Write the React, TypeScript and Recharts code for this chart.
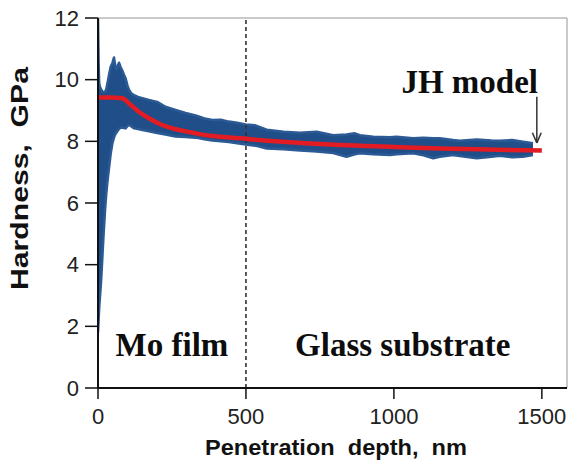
import React from 'react';
import { ComposedChart, Area, Line, XAxis, YAxis, ReferenceLine, ReferenceDot, Label } from 'recharts';

// Axis ticks
const xTicks = [0, 500, 1000, 1500];
const yTicks = [0, 2, 4, 6, 8, 10, 12];
const X_MAX = 1585;
const FILM_THICKNESS = 500;

// Measured hardness scatter band (envelope, GPa) vs penetration depth (nm)
const bandDepth = [0, 2, 4, 7, 10, 14, 19, 24, 28, 32, 38, 43, 49, 54, 58, 62, 67, 71, 76, 82, 88, 93, 100, 105, 113, 122, 135, 150, 172, 200, 228, 262, 296, 330, 360, 386, 415, 442, 470, 499, 532, 570, 627, 683, 739, 795, 840, 868, 885, 930, 986, 1009, 1065, 1100, 1133, 1155, 1200, 1223, 1280, 1330, 1358, 1400, 1436, 1470];
const bandLow = [1.8, 2.2, 2.6, 3.0, 3.4, 4.1, 5.0, 5.8, 6.3, 6.7, 7.2, 7.6, 7.95, 8.12, 8.22, 8.28, 8.35, 8.4, 8.44, 8.45, 8.43, 8.42, 8.5, 8.53, 8.48, 8.42, 8.4, 8.37, 8.33, 8.27, 8.22, 8.16, 8.14, 8.12, 8.07, 8.03, 8.0, 7.98, 7.94, 7.9, 7.86, 7.77, 7.74, 7.7, 7.67, 7.62, 7.5, 7.58, 7.61, 7.58, 7.56, 7.58, 7.61, 7.55, 7.45, 7.5, 7.56, 7.52, 7.45, 7.5, 7.53, 7.48, 7.5, 7.56];
const bandHigh = [12.0, 10.6, 9.9, 9.75, 9.7, 9.62, 9.6, 9.6, 9.7, 9.88, 10.2, 10.42, 10.55, 10.72, 10.48, 10.35, 10.45, 10.55, 10.42, 10.3, 10.15, 10.05, 9.8, 9.67, 9.55, 9.5, 9.44, 9.4, 9.34, 9.28, 9.12, 9.02, 8.92, 8.84, 8.74, 8.69, 8.7, 8.64, 8.6, 8.55, 8.52, 8.38, 8.31, 8.28, 8.31, 8.2, 8.22, 8.26, 8.2, 8.15, 8.13, 8.15, 8.1, 8.12, 8.1, 8.1, 8.04, 8.02, 8.06, 8.03, 8.02, 8.04, 7.99, 7.94];

// JH model fit
const fitDepth = [0, 40, 82, 105, 138, 172, 217, 273, 330, 386, 484, 532, 600, 700, 818, 1000, 1155, 1350, 1500];
const fitHardness = [9.42, 9.42, 9.4, 9.23, 8.96, 8.75, 8.53, 8.37, 8.26, 8.17, 8.1, 8.05, 8.0, 7.94, 7.88, 7.82, 7.77, 7.73, 7.7];

const bandData = bandDepth.map((x, i) => ({ x, range: [bandLow[i], bandHigh[i]] }));
const fitData = fitDepth.map((x, i) => ({ x, h: fitHardness[i] }));

const SANS = "'Liberation Sans', Arial, sans-serif";
const SERIF = "'Liberation Serif', 'Times New Roman', serif";

const serifText = (text: string, anchor: 'start' | 'middle' | 'end') => (props: any) => {
  const vb = props.viewBox || {};
  const cx = (vb.x ?? 0) + (vb.width ?? 0) / 2;
  const cy = (vb.y ?? 0) + (vb.height ?? 0) / 2;
  return (
    <text x={cx} y={cy} textAnchor={anchor} fontFamily={SERIF} fontWeight={700} fontSize={33} fill="#0d0d0d">
      {text}
    </text>
  );
};

const xTitle = (props: any) => {
  const vb = props.viewBox || { x: 98, y: 388, width: 469, height: 76 };
  return (
    <text
      x={vb.x + vb.width / 2 + 3.5}
      y={vb.y + 67}
      textAnchor="middle"
      fontFamily={SANS}
      fontWeight={700}
      fontSize={22.5}
      fill="#111"
      textLength={262}
      lengthAdjust="spacingAndGlyphs"
      style={{ whiteSpace: 'pre' }}
    >
      {'Penetration  depth,  nm'}
    </text>
  );
};

const yTitle = (props: any) => {
  const vb = props.viewBox || { x: 0, y: 18, width: 98, height: 370 };
  return (
    <text
      transform={`translate(${vb.x + 28}, ${vb.y + 160.5}) rotate(-90)`}
      textAnchor="middle"
      fontFamily={SANS}
      fontWeight={700}
      fontSize={23}
      fill="#111"
      textLength={223}
      lengthAdjust="spacingAndGlyphs"
      style={{ whiteSpace: 'pre' }}
    >
      {'Hardness,  GPa'}
    </text>
  );
};

const tickStyle = { fontFamily: SANS, fontSize: 22, fill: '#222' };

export default function App() {
  return (
    <div style={{ position: 'absolute', left: 0, top: 0, width: 569, height: 464, background: '#fff' }}>
      <ComposedChart width={569} height={464} margin={{ top: 18, right: 2, bottom: 0, left: 0 }}>
        <XAxis
          type="number"
          dataKey="x"
          domain={[0, X_MAX]}
          ticks={xTicks}
          allowDataOverflow
          height={76}
          tickSize={11}
          tickMargin={9}
          tick={tickStyle}
          axisLine={{ stroke: '#111', strokeWidth: 2 }}
          tickLine={{ stroke: '#111', strokeWidth: 1.5 }}
        >
          <Label content={xTitle} />
        </XAxis>
        <YAxis
          type="number"
          domain={[0, 12]}
          ticks={yTicks}
          allowDataOverflow
          width={98}
          tickSize={13}
          tickMargin={6}
          tick={tickStyle}
          axisLine={{ stroke: '#111', strokeWidth: 2 }}
          tickLine={{ stroke: '#111', strokeWidth: 1.5 }}
        >
          <Label content={yTitle} />
        </YAxis>
        <ReferenceLine y={12} stroke="#b8b8b8" strokeWidth={1.5} />
        <ReferenceLine x={X_MAX} stroke="#b8b8b8" strokeWidth={1.5} />
        <Area
          data={bandData}
          dataKey="range"
          type="linear"
          fill="#1f4e89"
          fillOpacity={1}
          stroke="#2c5a95"
          strokeWidth={2.5}
          strokeLinejoin="round"
          isAnimationActive={false}
          dot={false}
          activeDot={false}
        />
        <ReferenceLine x={FILM_THICKNESS} stroke="#333" strokeWidth={1.6} strokeDasharray="4 3" />
        <Line
          data={fitData}
          dataKey="h"
          type="monotone"
          stroke="#e31b23"
          strokeWidth={4.5}
          dot={false}
          activeDot={false}
          isAnimationActive={false}
        />
        <ReferenceLine segment={[{ x: 1483, y: 9.45 }, { x: 1483, y: 7.95 }]} stroke="#333" strokeWidth={1.5} />
        <ReferenceLine segment={[{ x: 1468, y: 8.28 }, { x: 1483, y: 7.95 }]} stroke="#333" strokeWidth={1.5} />
        <ReferenceLine segment={[{ x: 1498, y: 8.28 }, { x: 1483, y: 7.95 }]} stroke="#333" strokeWidth={1.5} />
        <ReferenceDot x={250} y={1.04} r={0} fill="none" stroke="none">
          <Label content={serifText('Mo film', 'middle')} />
        </ReferenceDot>
        <ReferenceDot x={1030} y={1.04} r={0} fill="none" stroke="none">
          <Label content={serifText('Glass substrate', 'middle')} />
        </ReferenceDot>
        <ReferenceDot x={1487} y={9.57} r={0} fill="none" stroke="none">
          <Label content={serifText('JH model', 'end')} />
        </ReferenceDot>
      </ComposedChart>
    </div>
  );
}
